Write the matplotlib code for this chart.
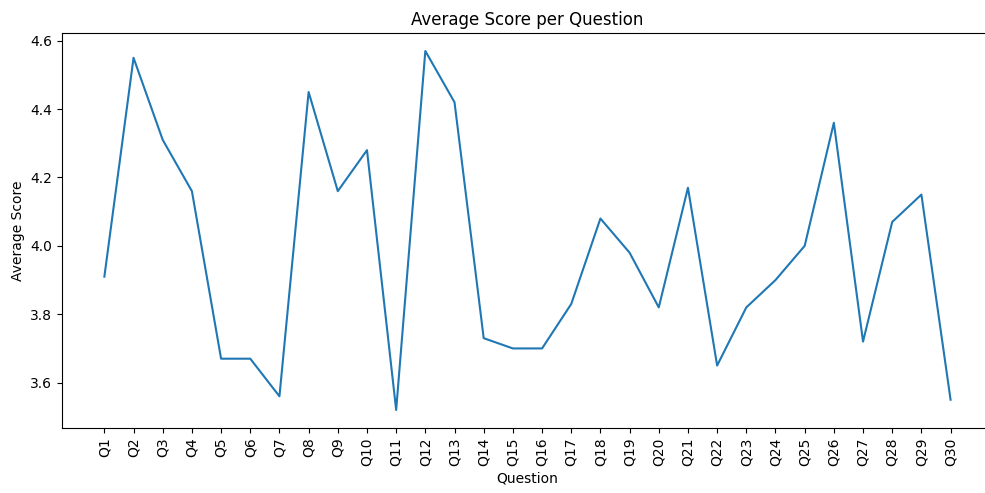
import matplotlib
matplotlib.use('Agg')
import matplotlib.pyplot as plt

# 질문별 평균 점수
questions = ['Q' + str(i) for i in range(1, 31)]
scores = [3.91, 4.55, 4.31, 4.16, 3.67, 3.67, 3.56, 4.45, 4.16, 4.28,
          3.52, 4.57, 4.42, 3.73, 3.70, 3.70, 3.83, 4.08, 3.98, 3.82,
          4.17, 3.65, 3.82, 3.90, 4.00, 4.36, 3.72, 4.07, 4.15, 3.55]

fig = plt.figure(figsize=(9.85, 4.93), dpi=100)
# 오른쪽 테두리는 원본처럼 그림 밖으로 잘림
ax = fig.add_axes([0.063, 0.132, 0.945, 0.801])

ax.plot(questions, scores, color='#1f77b4', linewidth=1.5)
ax.set_title('Average Score per Question', fontsize=12)
ax.set_xlabel('Question', fontsize=10)
ax.set_ylabel('Average Score', fontsize=10)
ax.tick_params(axis='x', labelrotation=90, labelsize=10)
ax.tick_params(axis='y', labelsize=10)
ax.set_yticks([3.6, 3.8, 4.0, 4.2, 4.4, 4.6])
ax.spines['right'].set_visible(False)

fig.savefig('out.png', dpi=100)
